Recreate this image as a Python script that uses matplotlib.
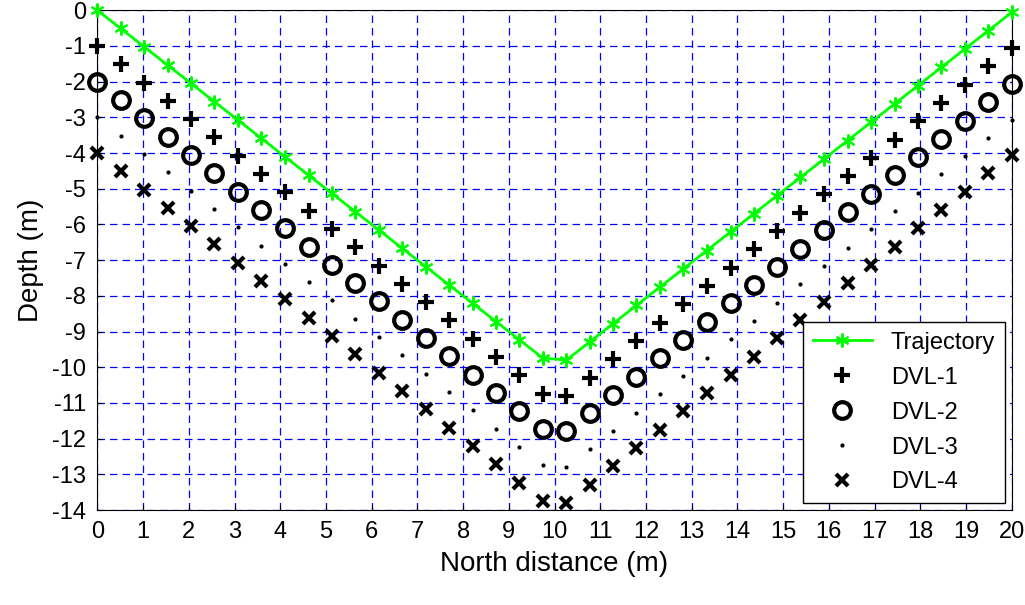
import matplotlib
matplotlib.use("Agg")
import matplotlib.pyplot as plt

north = [0.00,0.51,1.03,1.54,2.05,2.56,3.08,3.59,4.10,4.62,5.13,5.64,6.15,6.67,7.18,7.69,8.21,8.72,9.23,9.74,
         10.26,10.77,11.28,11.79,12.31,12.82,13.33,13.85,14.36,14.87,15.38,15.90,16.41,16.92,17.44,17.95,18.46,18.97,19.49,20.00]
traj = [0.00,-0.51,-1.03,-1.54,-2.05,-2.56,-3.08,-3.59,-4.10,-4.62,-5.13,-5.64,-6.15,-6.67,-7.18,-7.69,-8.21,-8.72,-9.23,-9.74,
        -9.80,-9.29,-8.78,-8.27,-7.75,-7.24,-6.73,-6.21,-5.70,-5.19,-4.68,-4.16,-3.65,-3.14,-2.62,-2.11,-1.60,-1.09,-0.57,-0.06]
dvl1 = [-1.00,-1.51,-2.03,-2.54,-3.05,-3.56,-4.08,-4.59,-5.10,-5.62,-6.13,-6.64,-7.15,-7.67,-8.18,-8.69,-9.21,-9.72,-10.23,-10.74,
        -10.80,-10.29,-9.78,-9.27,-8.75,-8.24,-7.73,-7.21,-6.70,-6.19,-5.68,-5.16,-4.65,-4.14,-3.62,-3.11,-2.60,-2.09,-1.57,-1.06]
dvl2 = [-2.00,-2.51,-3.03,-3.54,-4.05,-4.56,-5.08,-5.59,-6.10,-6.62,-7.13,-7.64,-8.15,-8.67,-9.18,-9.69,-10.21,-10.72,-11.23,-11.74,
        -11.80,-11.29,-10.78,-10.27,-9.75,-9.24,-8.73,-8.21,-7.70,-7.19,-6.68,-6.16,-5.65,-5.14,-4.62,-4.11,-3.60,-3.09,-2.57,-2.06]
dvl3 = [-3.00,-3.51,-4.03,-4.54,-5.05,-5.56,-6.08,-6.59,-7.10,-7.62,-8.13,-8.64,-9.15,-9.67,-10.18,-10.69,-11.21,-11.72,-12.23,-12.74,
        -12.80,-12.29,-11.78,-11.27,-10.75,-10.24,-9.73,-9.21,-8.70,-8.19,-7.68,-7.16,-6.65,-6.14,-5.62,-5.11,-4.60,-4.09,-3.57,-3.06]
dvl4 = [-4.00,-4.51,-5.03,-5.54,-6.05,-6.56,-7.08,-7.59,-8.10,-8.62,-9.13,-9.64,-10.15,-10.67,-11.18,-11.69,-12.21,-12.72,-13.23,-13.74,
        -13.80,-13.29,-12.78,-12.27,-11.75,-11.24,-10.73,-10.21,-9.70,-9.19,-8.68,-8.16,-7.65,-7.14,-6.62,-6.11,-5.60,-5.09,-4.57,-4.06]
xticks = list(range(0, 21))
yticks = list(range(0, -15, -1))

plt.rcParams['font.family'] = ['Liberation Sans', 'DejaVu Sans']
fig = plt.figure(figsize=(10.25, 6.05), dpi=100)
ax = fig.add_axes([0.095, 0.157, 0.892, 0.826])

kw = dict(clip_on=False)
ax.plot(north, traj, '-', marker=(6, 2, 0), color='#00ff00', lw=2, ms=10, mew=1.5, label='Trajectory', zorder=5, **kw)
ax.plot(north, dvl1, '+', color='black', ms=11, mew=3, ls='none', label='DVL-1', **kw)
ax.plot(north, dvl2, 'o', color='black', mfc='none', ms=12, mew=3, ls='none', label='DVL-2', **kw)
ax.plot(north, dvl3, '.', color='black', ms=4, ls='none', label='DVL-3', **kw)
ax.plot(north, dvl4, 'x', color='black', ms=8, mew=3, ls='none', label='DVL-4', **kw)

ax.set_xlim(0, 20)
ax.set_ylim(-14, 0)
ax.set_xticks(xticks)
ax.set_yticks(yticks)
ax.set_yticklabels([str(v) for v in yticks])
ax.tick_params(labelsize=17, direction='in', pad=8)
ax.grid(True, color='blue', ls=(0, (6, 4)), lw=0.9)
ax.set_xlabel('North distance (m)', fontsize=20, labelpad=6)
ax.set_ylabel('Depth (m)', fontsize=20, labelpad=6)
for s in ax.spines.values():
    s.set_color('black')
leg = ax.legend(loc='lower right', fontsize=17, fancybox=False, framealpha=1, edgecolor='black',
                borderaxespad=0.3, handlelength=2.5, labelspacing=0.55)
leg.set_zorder(10)
fig.savefig('out.png', dpi=100)
